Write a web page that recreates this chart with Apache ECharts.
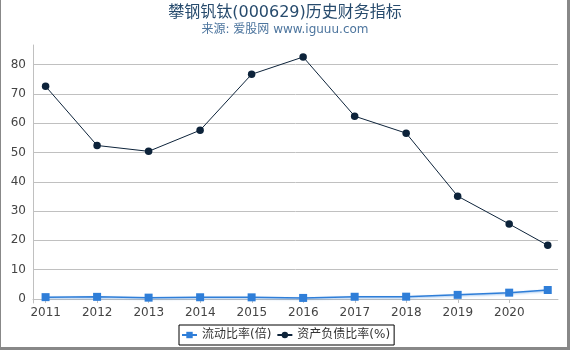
<!DOCTYPE html>
<html>
<head>
<meta charset="utf-8">
<script src="https://cdn.jsdelivr.net/npm/echarts@6/dist/echarts.min.js"></script>
<style>
  html, body { margin: 0; padding: 0; background: #fff; }
  #chart { position: absolute; left: 0; top: 0; width: 570px; height: 350px; }
  #frame { position: absolute; left: 0; top: 0; width: 570px; height: 350px; box-sizing: border-box;
           border-left: 1px solid #888; border-right: 3px solid #888; border-bottom: 3px solid #888; pointer-events: none; }
</style>
</head>
<body>
<div id="chart"></div>
<div id="frame"></div>
<script>
const titleText = '攀钢钒钛(000629)历史财务指标';
const subtitleText = '来源: 爱股网 www.iguuu.com';
const dates = ['2010-12-31','2011-12-31','2012-12-31','2013-12-31','2014-12-31','2015-12-31','2016-12-31','2017-12-31','2018-12-31','2019-12-31','2020-09-30'];
const currentRatio = [0.62, 0.72, 0.45, 0.58, 0.55, 0.35, 0.75, 0.78, 1.4, 2.15, 3.05];
const debtRatio = [72.6, 52.4, 50.4, 57.6, 76.7, 82.6, 62.4, 56.6, 35.1, 25.6, 18.3];
const xTickLabels = [2011, 2012, 2013, 2014, 2015, 2016, 2017, 2018, 2019, 2020];
const yTickLabels = [0, 10, 20, 30, 40, 50, 60, 70, 80];
const seriesNames = ['流动比率(倍)', '资产负债比率(%)'];

function yearFrac(s) {
  const [y, m, d] = s.split('-').map(Number);
  const start = Date.UTC(y, 0, 1), end = Date.UTC(y + 1, 0, 1);
  return y + (Date.UTC(y, m - 1, d) - start) / (end - start);
}
const xs = dates.map(yearFrac);
const FONT = '"DejaVu Sans", "Noto Sans CJK SC", sans-serif';

const chart = echarts.init(document.getElementById('chart'), null, { renderer: 'canvas' });
chart.setOption({
  animation: false,
  textStyle: { fontFamily: FONT },
  title: {
    text: titleText, subtext: subtitleText, left: 'center', top: 0, itemGap: 3,
    textStyle: { fontSize: 16, fontWeight: 'normal', color: '#274b6d', fontFamily: FONT },
    subtextStyle: { fontSize: 12, color: '#4d759e', fontFamily: FONT }
  },
  legend: {
    data: seriesNames, left: 179, top: 325,
    borderColor: '#000', borderWidth: 1, borderRadius: 0,
    padding: [4, 4, 4, 2], itemWidth: 15, itemHeight: 8, itemGap: 5,
    textStyle: { fontSize: 12, color: '#333', fontFamily: FONT }
  },
  grid: { left: 33, right: 12, top: 45, bottom: 47, containLabel: false },
  xAxis: {
    type: 'value', min: 2010.753, max: 2020.945,
    axisLine: { show: true, lineStyle: { color: '#c0c0c0', width: 1 } },
    axisTick: { show: true, length: 4, customValues: xTickLabels, lineStyle: { color: '#c0c0c0' } },
    axisLabel: { customValues: xTickLabels, formatter: v => String(Math.round(v)), fontSize: 12, color: '#444', margin: 4, fontFamily: FONT },
    splitLine: { show: false }
  },
  yAxis: {
    type: 'value', min: -1.38, max: 86.7,
    axisLine: { show: true, lineStyle: { color: '#c0c0c0', width: 1 } },
    axisTick: { show: false, customValues: yTickLabels },
    axisLabel: { customValues: yTickLabels, fontSize: 12, color: '#444', margin: 7, fontFamily: FONT },
    splitLine: { show: true, lineStyle: { color: '#c0c0c0', width: 1 } }
  },
  series: [
    {
      name: seriesNames[0], type: 'line',
      data: xs.map((x, i) => [x, currentRatio[i]]),
      symbol: 'rect', symbolSize: 8,
      itemStyle: { color: '#2f7ed8' },
      lineStyle: { color: '#2f7ed8', width: 1.5, shadowColor: 'rgba(47,126,216,0.45)', shadowBlur: 2, shadowOffsetY: 1 }
    },
    {
      name: seriesNames[1], type: 'line',
      data: xs.map((x, i) => [x, debtRatio[i]]),
      symbol: 'circle', symbolSize: 7.5,
      itemStyle: { color: '#0d233a' },
      lineStyle: { color: '#0d233a', width: 1 }
    }
  ]
});
</script>
</body>
</html>
